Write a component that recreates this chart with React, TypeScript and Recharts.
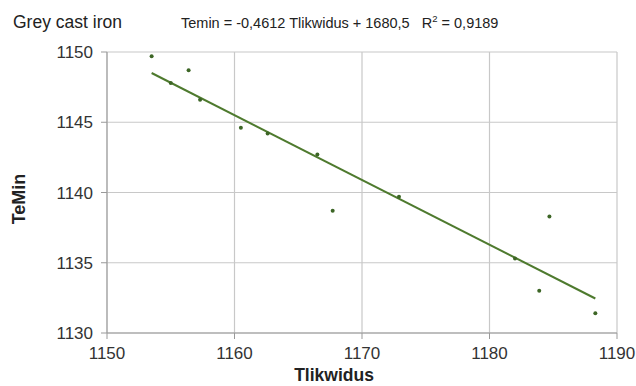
import React from 'react';
import { ScatterChart, Scatter, XAxis, YAxis, CartesianGrid } from 'recharts';

const tlikwidus = [1153.5, 1155.0, 1156.4, 1157.3, 1160.5, 1162.6, 1166.5, 1167.7, 1172.9, 1182.0, 1183.9, 1184.7, 1188.3];
const temin = [1149.7, 1147.8, 1148.7, 1146.6, 1144.6, 1144.2, 1142.7, 1138.7, 1139.7, 1135.3, 1133.0, 1138.3, 1131.4];
const xTicks = [1150, 1160, 1170, 1180, 1190];
const yTicks = [1130, 1135, 1140, 1145, 1150];
const slope = -0.4612;
const intercept = 1680.5;
const trendX = [1153.5, 1188.3];

const points = tlikwidus.map((x, i) => ({ x, y: temin[i] }));
const trend = trendX.map((x) => ({ x, y: slope * x + intercept }));

const FONT = '"Liberation Sans", Arial, sans-serif';

const Dot = (props: any) => {
  const { cx, cy } = props;
  return <circle cx={cx} cy={cy} r={2} fill="#3d6626" />;
};
const NoDot = () => <g />;

export default function App() {
  return (
    <div style={{ position: 'absolute', left: 0, top: 0, width: 636, height: 386, background: '#fff', fontFamily: FONT }}>
      <ScatterChart width={636} height={386} margin={{ top: 52, right: 19, bottom: 0, left: 0 }}>
        <CartesianGrid stroke="#c8c8c8" strokeWidth={1.2} />
        <XAxis
          type="number"
          dataKey="x"
          domain={[1150, 1190]}
          ticks={xTicks}
          height={53}
          tickSize={6}
          tickMargin={8}
          stroke="#999"
          tick={{ fill: '#333', fontSize: 17, fontFamily: FONT }}
          allowDataOverflow
        />
        <YAxis
          type="number"
          dataKey="y"
          domain={[1130, 1150]}
          ticks={yTicks}
          width={107}
          tickSize={6}
          tickMargin={8}
          stroke="#999"
          tick={{ fill: '#333', fontSize: 17, fontFamily: FONT }}
          allowDataOverflow
        />
        <Scatter data={trend} line={{ stroke: '#4e7a2e', strokeWidth: 2 }} shape={NoDot} isAnimationActive={false} />
        <Scatter data={points} shape={Dot} isAnimationActive={false} />
      </ScatterChart>
      <svg width={636} height={386} style={{ position: 'absolute', left: 0, top: 0, pointerEvents: 'none' }}>
        <text x={13} y={28} fontSize={17.5} fill="#222" fontFamily={FONT}>Grey cast iron</text>
        <text x={181} y={28} fontSize={14.5} fill="#222" fontFamily={FONT}>
          Temin = -0,4612 Tlikwidus + 1680,5{'\u00a0\u00a0\u00a0'}R
          <tspan fontSize={9.5} dy={-6}>2</tspan>
          <tspan dy={6}> = 0,9189</tspan>
        </text>
        <text x={25} y={199} fontSize={18} fontWeight="bold" fill="#222" fontFamily={FONT} textAnchor="middle" transform="rotate(-90 25 199)">TeMin</text>
        <text x={334} y={381} fontSize={17.5} fontWeight="bold" fill="#222" fontFamily={FONT} textAnchor="middle">Tlikwidus</text>
      </svg>
    </div>
  );
}
